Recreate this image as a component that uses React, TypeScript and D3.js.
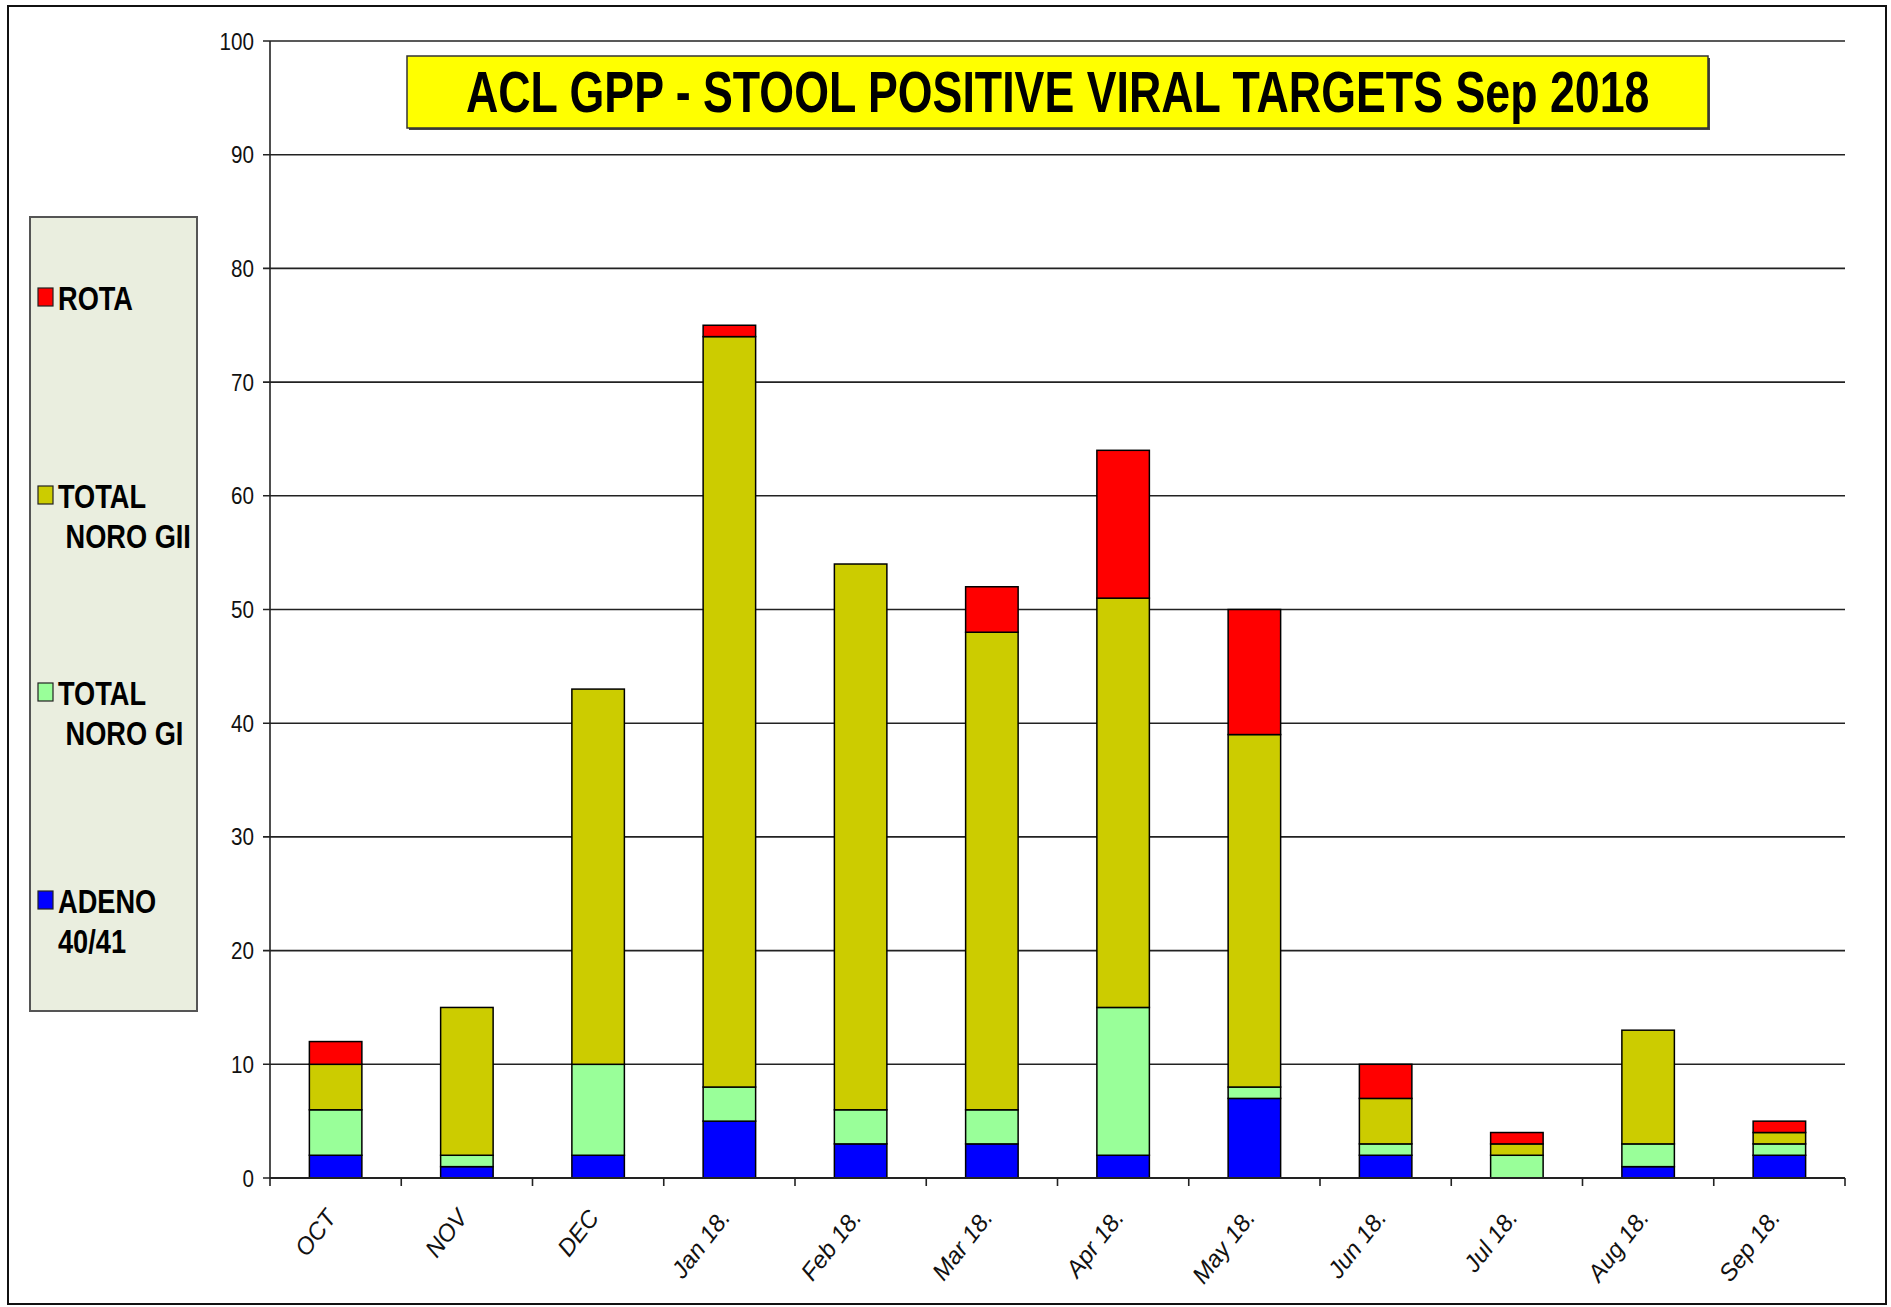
import React from 'react'
import * as d3 from 'd3'

const months = ['OCT', 'NOV', 'DEC', 'Jan 18.', 'Feb 18.', 'Mar 18.', 'Apr 18.', 'May 18.', 'Jun 18.', 'Jul 18.', 'Aug 18.', 'Sep 18.']
const adeno = [2, 1, 2, 5, 3, 3, 2, 7, 2, 0, 1, 2]
const noroGI = [4, 1, 8, 3, 3, 3, 13, 1, 1, 2, 2, 1]
const noroGII = [4, 13, 33, 66, 48, 42, 36, 31, 4, 1, 10, 1]
const rota = [2, 0, 0, 1, 0, 4, 13, 11, 3, 1, 0, 1]
const yTicks = [0, 10, 20, 30, 40, 50, 60, 70, 80, 90, 100]

const seriesKeys = ['adeno', 'noroGI', 'noroGII', 'rota']
const colors = { adeno: '#0000ff', noroGI: '#99ff99', noroGII: '#cccc00', rota: '#ff0000' }

// legend order is top to bottom, reverse of the stack
const legendItems = [
  { key: 'rota', lines: ['ROTA'], y: 310 },
  { key: 'noroGII', lines: ['TOTAL', ' NORO GII'], y: 508 },
  { key: 'noroGI', lines: ['TOTAL', ' NORO GI'], y: 705 },
  { key: 'adeno', lines: ['ADENO', '40/41'], y: 913 },
]

const sans = '"Liberation Sans", Arial, sans-serif'

// no Arial Narrow here, so squeeze Liberation Sans horizontally
const Narrow = ({ x, y, sx = 0.8, anchor = 'start', children, ...rest }: any) => (
  <g transform={`translate(${x},${y}) scale(${sx},1)`}>
    <text x={0} y={0} textAnchor={anchor} fontFamily={sans} style={{ whiteSpace: 'pre' }} {...rest}>
      {children}
    </text>
  </g>
)

export default function App() {
  const W = 1891
  const H = 1307
  const left = 270, right = 1845, top = 41, bottom = 1178

  const rows = months.map((m, i) => ({
    month: m,
    adeno: adeno[i],
    noroGI: noroGI[i],
    noroGII: noroGII[i],
    rota: rota[i],
  }))
  const stacked = d3.stack().keys(seriesKeys)(rows as any)

  const x = d3.scaleBand().domain(months).range([left, right]).paddingInner(0.6).paddingOuter(0.3)
  const y = d3.scaleLinear().domain([0, 100]).range([bottom, top])
  const step = x.step()

  return (
    <svg width={W} height={H} style={{ position: 'absolute', left: 0, top: 0, background: '#fff' }}>
      <rect x={8} y={6} width={1878} height={1298} fill="#fff" stroke="#111" strokeWidth={2} />

      {/* gridlines + y ticks */}
      {yTicks.map((t) => (
        <g key={t}>
          <line x1={left - 7} x2={right} y1={y(t)} y2={y(t)} stroke="#222" strokeWidth={1.6} />
          <Narrow x={254} y={y(t) + 8.5} sx={0.86} anchor="end" fontSize={24} fill="#111">
            {t}
          </Narrow>
        </g>
      ))}
      <line x1={left} x2={left} y1={top} y2={bottom} stroke="#222" strokeWidth={1.6} />

      {/* x ticks at band boundaries */}
      {d3.range(months.length + 1).map((i) => (
        <line key={i} x1={left + i * step} x2={left + i * step} y1={bottom} y2={bottom + 8} stroke="#222" strokeWidth={1.6} />
      ))}

      {/* stacked bars */}
      {stacked.map((s: any) => (
        <g key={s.key}>
          {s.map((d: any, i: number) =>
            d[1] - d[0] > 0 ? (
              <rect
                key={i}
                x={x(months[i])}
                y={y(d[1])}
                width={x.bandwidth()}
                height={y(d[0]) - y(d[1])}
                fill={colors[s.key]}
                stroke="#000"
                strokeWidth={1.5}
              />
            ) : null
          )}
        </g>
      ))}
      <line x1={left} x2={right} y1={bottom} y2={bottom} stroke="#222" strokeWidth={2} />

      {/* x labels */}
      {months.map((m) => {
        const cx = (x(m) as number) + x.bandwidth() / 2 + 2
        const cy = 1218
        return (
          <text
            key={m}
            transform={`translate(${cx},${cy}) rotate(-52)`}
            textAnchor="end"
            fontFamily={sans}
            fontStyle="italic"
            fontSize={24}
            fill="#111"
          >
            {m}
          </text>
        )
      })}

      {/* title */}
      <rect x={409} y={58} width={1301} height={72} fill="#444" />
      <rect x={407} y={56} width={1301} height={72} fill="#ffff00" stroke="#333" strokeWidth={1.5} />
      <Narrow x={466} y={112} sx={0.785} fontWeight="bold" fontSize={57} fill="#000">
        ACL GPP - STOOL POSITIVE VIRAL TARGETS Sep 2018
      </Narrow>

      {/* legend */}
      <rect x={30} y={217} width={167} height={794} fill="#eaeedf" stroke="#555" strokeWidth={2} />
      {legendItems.map((it) => (
        <g key={it.key}>
          <rect x={38} y={it.y - 22} width={15} height={18} fill={colors[it.key]} stroke="#222" strokeWidth={1.2} />
          {it.lines.map((ln, j) => (
            <Narrow key={j} x={58} y={it.y + j * 40} sx={0.8} fontWeight="bold" fontSize={34} fill="#000">
              {ln}
            </Narrow>
          ))}
        </g>
      ))}
    </svg>
  )
}
